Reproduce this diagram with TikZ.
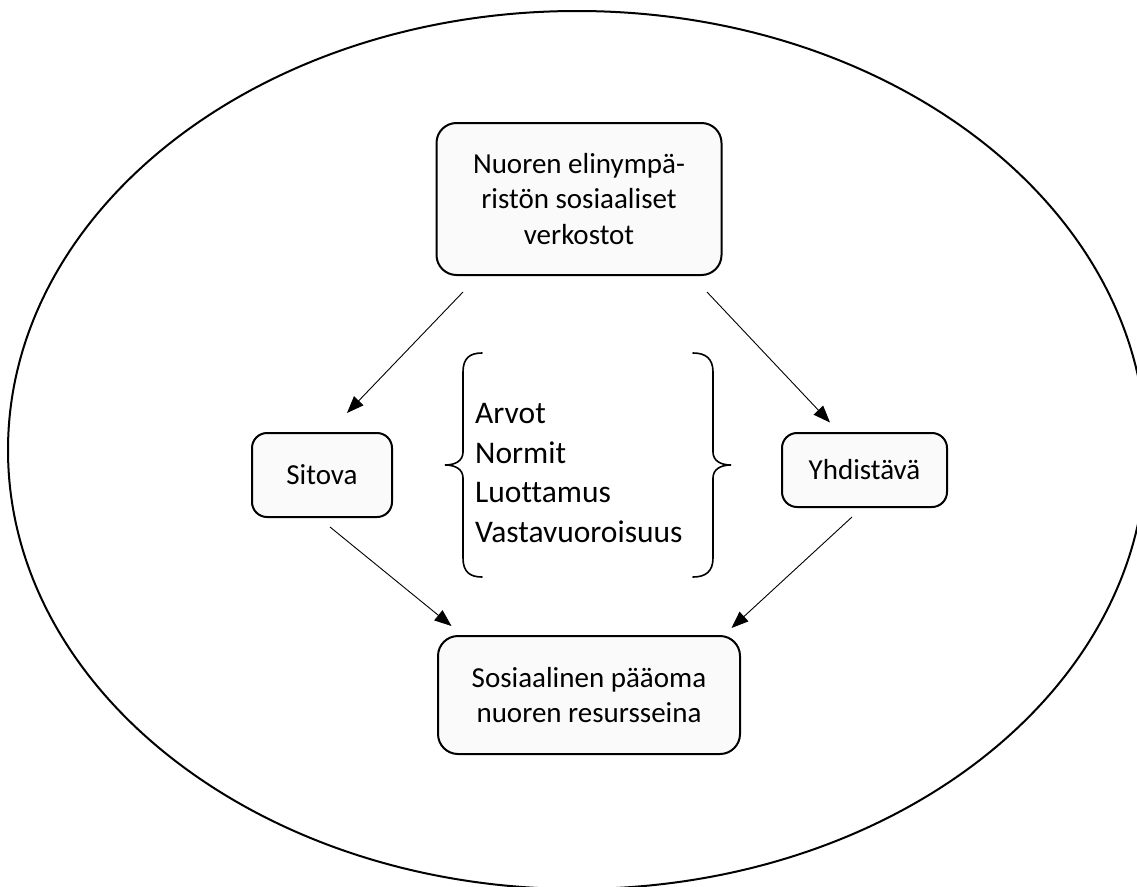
\documentclass[tikz,border=0pt]{standalone}
\usepackage{fontspec}
\setmainfont{Carlito}[Ligatures=NoCommon]
\usetikzlibrary{arrows.meta}
\tikzset{
  boxnode/.style={draw=black, line width=2pt, fill=black!2, rounded corners=#1,
    inner sep=0pt, align=center, font=\fontsize{29}{35.5}\selectfont},
  conn/.style={line width=0.9pt, -{Triangle[length=17pt,width=13pt]}},
  bracepath/.style={line width=1.6pt, line cap=round},
  outerellipse/.style={line width=2pt}
}
\begin{document}
\begin{tikzpicture}[x=1pt,y=-1pt]
\useasboundingbox (0,0) rectangle (1137,886);
\begin{scope}
\clip (0,0) rectangle (1137,886);
\draw[outerellipse] (577,450) ellipse [x radius=569, y radius=439];
\end{scope}

\node[boxnode=20pt, minimum width=285pt, minimum height=152pt] (top) at (579,199)
  {Nuoren elinympä-\\ristön sosiaaliset\\verkostot};
\node[boxnode=15pt, minimum width=140pt, minimum height=84pt] (sitova) at (322,475) {Sitova};
\node[boxnode=15pt, minimum width=165pt, minimum height=74pt] (yhd) at (864.5,470) {Yhdistävä};
\node[boxnode=20pt, minimum width=302pt, minimum height=118pt] (bottom) at (589,695)
  {Sosiaalinen pääoma\\nuoren resursseina};

\node[anchor=base west, inner sep=0pt, align=left,
  font=\fontsize{31.5}{39.5}\selectfont] (list) at (475,542)
  {Arvot\\Normit\\Luottamus\\Vastavuoroisuus};

% braces
\draw[bracepath] (482,353) .. controls (470,353) and (463,358) .. (463,372)
  -- (463,452) .. controls (463,461) and (455,465) .. (445,465)
  .. controls (455,465) and (463,469) .. (463,478)
  -- (463,558) .. controls (463,572) and (470,577) .. (482,577);
\draw[bracepath] (693,353) .. controls (705,353) and (713,358) .. (713,372)
  -- (713,452) .. controls (713,461) and (721,465) .. (731,465)
  .. controls (721,465) and (713,469) .. (713,478)
  -- (713,558) .. controls (713,572) and (705,577) .. (693,577);

% connector end points
\coordinate (a1s) at (463,292);
\coordinate (a1e) at (347,413);
\coordinate (a2s) at (707,292);
\coordinate (a2e) at (830,422.5);
\coordinate (a3s) at (330,527);
\coordinate (a3e) at (451.5,626);
\coordinate (a4s) at (852,517);
\coordinate (a4e) at (731.5,628);

\draw[conn] (a1s) -- (a1e);
\draw[conn] (a2s) -- (a2e);
\draw[conn] (a3s) -- (a3e);
\draw[conn] (a4s) -- (a4e);
\end{tikzpicture}
\end{document}
